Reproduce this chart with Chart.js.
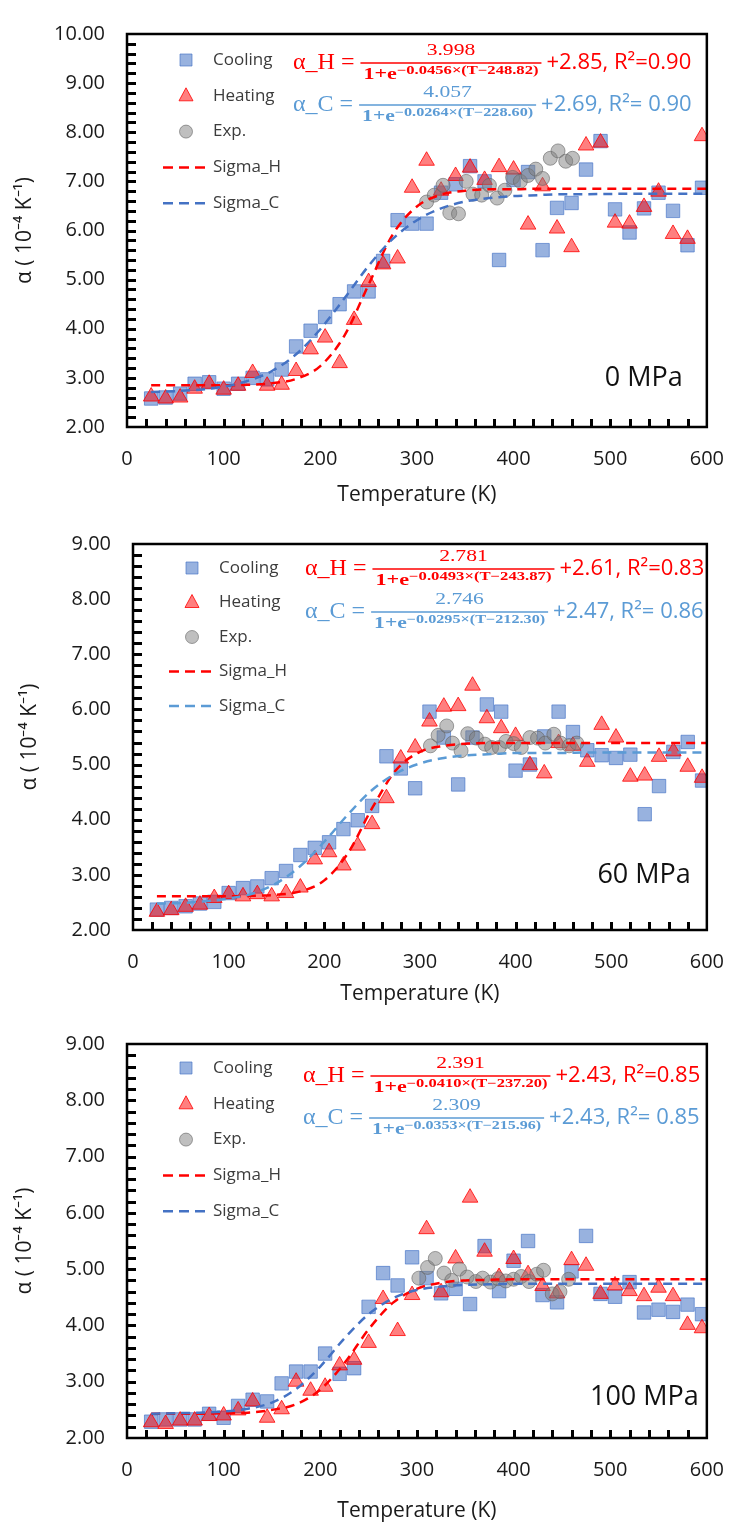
<!DOCTYPE html>
<html>
<head>
<meta charset="utf-8">
<script src="https://cdn.jsdelivr.net/npm/chart.js@4.4.1/dist/chart.umd.min.js"></script>
<style>
  body { margin: 0; background: #fff; }
  .panel { position: absolute; left: 0; width: 744px; }
</style>
</head>
<body>
<div class="panel" style="top:0;height:510px"><canvas id="c0"></canvas></div>
<div class="panel" style="top:510px;height:500px"><canvas id="c1"></canvas></div>
<div class="panel" style="top:1010px;height:520px"><canvas id="c2"></canvas></div>
<script>
// sample temperatures (K) shared by the cooling / heating series
const temps = [25, 40, 55, 70, 85, 100, 115, 130, 145, 160, 175, 190, 205, 220, 235, 250, 265, 280, 295,
  310, 325, 340, 355, 370, 385, 400, 415, 430, 445, 460, 475, 490, 505, 520, 535, 550, 565, 580, 595];
// temperatures where the sigmoid fit curves were read
const fitTemps = [25, 50, 75, 100, 125, 150, 175, 200, 225, 250, 275, 300, 325, 350, 375, 400,
  425, 450, 475, 500, 525, 550, 575, 600];

// ---- 0 MPa ----
const cooling0 = [2.58, 2.60, 2.68, 2.88, 2.91, 2.78, 2.88, 3.00, 2.97, 3.17, 3.64, 3.96, 4.24, 4.50, 4.76, 4.76, 5.38, 6.21, 6.14,
  6.14, 6.77, 6.94, 7.31, 7.00, 5.40, 7.03, 7.19, 5.60, 6.46, 6.56, 7.24, 7.82, 6.43, 5.96, 6.45, 6.77, 6.40, 5.70, 6.87];
const heating0 = [2.62, 2.58, 2.60, 2.78, 2.88, 2.76, 2.84, 3.10, 2.84, 2.86, 3.14, 3.58, 3.82, 3.30, 4.18, 4.95, 5.31, 5.43, 6.87,
  7.42, 6.81, 7.11, 7.28, 7.03, 7.29, 7.24, 6.12, 6.90, 6.04, 5.66, 7.73, 7.79, 6.16, 6.14, 6.48, 6.79, 5.93, 5.83, 7.92];
const expT0 = [310, 318, 327, 334, 343, 351, 358, 367, 375, 383, 391, 399, 407, 415, 423, 430, 438, 446, 454, 461];
const exp0 = [6.58, 6.72, 6.92, 6.36, 6.34, 7.00, 6.74, 6.72, 6.92, 6.66, 6.82, 7.08, 7.00, 7.12, 7.25, 7.06, 7.47, 7.62, 7.41, 7.47];
const sigmaH0 = [2.85, 2.85, 2.85, 2.85, 2.86, 2.89, 2.98, 3.24, 3.86, 4.90, 5.92, 6.49, 6.73, 6.81, 6.84, 6.84,
  6.85, 6.85, 6.85, 6.85, 6.85, 6.85, 6.85, 6.85];
const sigmaC0 = [2.71, 2.73, 2.76, 2.82, 2.94, 3.14, 3.48, 3.99, 4.62, 5.28, 5.83, 6.21, 6.45, 6.59, 6.66, 6.70,
  6.72, 6.74, 6.74, 6.745, 6.75, 6.75, 6.75, 6.75];

// ---- 60 MPa ----
const cooling60 = [2.37, 2.40, 2.43, 2.48, 2.51, 2.67, 2.76, 2.79, 2.94, 3.07, 3.36, 3.49, 3.59, 3.83, 3.99, 4.25, 5.15, 4.93, 4.57,
  5.96, 5.49, 4.64, 5.49, 6.09, 5.96, 4.89, 5.00, 5.51, 5.96, 5.59, 5.26, 5.17, 5.12, 5.18, 4.10, 4.61, 5.23, 5.41, 4.71];
const heating60 = [2.33, 2.36, 2.42, 2.46, 2.58, 2.65, 2.61, 2.65, 2.61, 2.67, 2.77, 3.28, 3.41, 3.17, 3.53, 3.92, 4.39, 5.11, 5.31,
  5.78, 6.05, 6.06, 6.43, 5.84, 5.66, 5.52, 4.99, 4.84, 5.39, 5.34, 5.05, 5.72, 5.49, 4.78, 4.80, 5.14, 5.24, 4.96, 4.76];
const expT60 = [311, 319, 328, 334, 343, 350, 359, 368, 375, 383, 390, 398, 406, 415, 423, 431, 440, 447, 456, 464];
const exp60 = [5.34, 5.53, 5.70, 5.39, 5.25, 5.56, 5.48, 5.37, 5.31, 5.31, 5.42, 5.38, 5.31, 5.49, 5.48, 5.39, 5.55, 5.39, 5.34, 5.39];
const sigmaH60 = [2.61, 2.61, 2.61, 2.61, 2.62, 2.64, 2.70, 2.90, 3.40, 4.21, 4.90, 5.23, 5.34, 5.38, 5.39, 5.39,
  5.39, 5.39, 5.39, 5.39, 5.39, 5.39, 5.39, 5.39];
const sigmaC60 = [2.48, 2.49, 2.52, 2.57, 2.66, 2.85, 3.16, 3.60, 4.10, 4.54, 4.84, 5.02, 5.12, 5.17, 5.19, 5.21,
  5.21, 5.21, 5.22, 5.22, 5.22, 5.22, 5.22, 5.22];

// ---- 100 MPa ----
const cooling100 = [2.29, 2.33, 2.33, 2.33, 2.43, 2.36, 2.57, 2.68, 2.65, 2.97, 3.18, 3.18, 3.50, 3.14, 3.24, 4.33, 4.93, 4.71, 5.21,
  4.84, 4.57, 4.65, 4.38, 5.41, 4.61, 5.15, 5.50, 4.54, 4.41, 4.96, 5.59, 4.56, 4.51, 4.77, 4.23, 4.28, 4.24, 4.37, 4.20];
const heating100 = [2.28, 2.25, 2.31, 2.31, 2.39, 2.40, 2.49, 2.65, 2.36, 2.51, 3.00, 2.84, 2.91, 3.29, 3.39, 3.69, 4.47, 3.90, 4.54,
  5.71, 4.59, 5.19, 6.27, 5.31, 4.86, 5.18, 4.91, 4.70, 4.57, 5.16, 5.06, 4.56, 4.71, 4.61, 4.52, 4.67, 4.52, 4.01, 3.95];
const expT100 = [302, 311, 319, 328, 336, 344, 352, 361, 368, 376, 384, 392, 400, 408, 416, 424, 431, 440, 448, 457];
const exp100 = [4.84, 5.03, 5.19, 4.93, 4.80, 5.00, 4.86, 4.78, 4.84, 4.77, 4.83, 4.79, 4.82, 4.87, 4.78, 4.91, 4.98, 4.56, 4.60, 4.82];
const sigmaH100 = [2.43, 2.43, 2.43, 2.44, 2.45, 2.50, 2.60, 2.86, 3.33, 3.93, 4.40, 4.65, 4.76, 4.80, 4.81, 4.82,
  4.82, 4.82, 4.82, 4.82, 4.82, 4.82, 4.82, 4.82];
const sigmaC100 = [2.43, 2.44, 2.45, 2.47, 2.52, 2.63, 2.87, 3.27, 3.77, 4.20, 4.48, 4.63, 4.69, 4.72, 4.73, 4.74,
  4.74, 4.74, 4.74, 4.74, 4.74, 4.74, 4.74, 4.74];

// axis labels / texts
const pressures = ["0 MPa", "60 MPa", "100 MPa"];
const yMaxes = [10, 9, 9];
const eqH = [
  { num: "3.998", expo: "\u22120.0456\u00d7(T\u2212248.82)", tail: "+2.85, R\u00b2=0.90" },
  { num: "2.781", expo: "\u22120.0493\u00d7(T\u2212243.87)", tail: "+2.61, R\u00b2=0.83" },
  { num: "2.391", expo: "\u22120.0410\u00d7(T\u2212237.20)", tail: "+2.43, R\u00b2=0.85" },
];
const eqC = [
  { num: "4.057", expo: "\u22120.0264\u00d7(T\u2212228.60)", tail: "+2.69, R\u00b2= 0.90" },
  { num: "2.746", expo: "\u22120.0295\u00d7(T\u2212212.30)", tail: "+2.47, R\u00b2= 0.86" },
  { num: "2.309", expo: "\u22120.0353\u00d7(T\u2212215.96)", tail: "+2.43, R\u00b2= 0.85" },
];

const RED = "#FF0000";
const EQ_BLUE = "#5B9BD5";
const COOL_FILL = "rgba(68,114,196,0.55)";
const COOL_EDGE = "rgba(68,114,196,0.65)";
const HEAT_FILL = "rgba(255,0,0,0.5)";
const HEAT_EDGE = "rgba(255,0,0,0.8)";
const EXP_FILL = "rgba(127,127,127,0.5)";
const EXP_EDGE = "rgba(100,100,100,0.6)";
const SANS = '"Open Sans", sans-serif';
const SERIF = '"Liberation Serif", "DejaVu Serif", serif';

// layout of each panel (pixels)
const layouts = [
  { padTop: 16, yW: 127, xH: 83, xTitlePad: 2, yTitlePad: 12, curveC: "#4472C4",
    legTop: 26, legGap: 35.8, eqX: 166, eqYH: 29, eqYC: 71, fracH: 181, fracC: 177, pr: 24, pb: 49 },
  { padTop: 28, yW: 133, xH: 80, xTitlePad: 3, yTitlePad: 17, curveC: "#5B9BD5",
    legTop: 24, legGap: 34.5, eqX: 172, eqYH: 25, eqYC: 68, fracH: 182, fracC: 177, pr: 16, pb: 55 },
  { padTop: 23, yW: 127, xH: 92, xTitlePad: 6, yTitlePad: 12, curveC: "#4472C4",
    legTop: 24, legGap: 35.8, eqX: 176, eqYH: 32, eqYC: 74, fracH: 180, fracC: 175, pr: 8, pb: 41 },
];

function pairs(xs, ys) {
  return xs.map((x, i) => ({ x: x, y: ys[i] }));
}

function drawMarker(ctx, kind, x, y) {
  ctx.save();
  ctx.lineWidth = 1;
  ctx.beginPath();
  if (kind === "rect") {
    ctx.fillStyle = COOL_FILL; ctx.strokeStyle = COOL_EDGE;
    ctx.rect(x - 6, y - 6, 12, 12);
  } else if (kind === "triangle") {
    ctx.fillStyle = HEAT_FILL; ctx.strokeStyle = HEAT_EDGE;
    ctx.moveTo(x, y - 8); ctx.lineTo(x + 7, y + 5); ctx.lineTo(x - 7, y + 5); ctx.closePath();
  } else {
    ctx.fillStyle = EXP_FILL; ctx.strokeStyle = EXP_EDGE;
    ctx.arc(x, y, 6.5, 0, Math.PI * 2);
  }
  ctx.fill(); ctx.stroke();
  ctx.restore();
}

function drawEq(ctx, x, y, color, name, eq, fracW) {
  ctx.save();
  ctx.fillStyle = color; ctx.strokeStyle = color;
  ctx.textBaseline = "middle"; ctx.textAlign = "left";
  ctx.font = "24px " + SERIF;
  ctx.fillText(name, x, y);
  const lx = x + ctx.measureText(name).width + 6;
  ctx.lineWidth = 1.4;
  ctx.beginPath(); ctx.moveTo(lx, y); ctx.lineTo(lx + fracW, y); ctx.stroke();
  const cx = lx + fracW / 2;
  // denominator, stretched to the fraction width
  ctx.font = "bold 16px " + SERIF;
  const w1 = ctx.measureText("1+e").width;
  ctx.font = "bold 12px " + SERIF;
  const w2 = ctx.measureText(eq.expo).width;
  const sx = (fracW - 6) / (w1 + w2);
  ctx.save();
  ctx.translate(cx - (w1 + w2) * sx / 2, y + 12);
  ctx.scale(sx, 1);
  ctx.font = "bold 16px " + SERIF; ctx.fillText("1+e", 0, 0);
  ctx.font = "bold 12px " + SERIF; ctx.fillText(eq.expo, w1, -4);
  ctx.restore();
  // numerator
  ctx.save();
  ctx.translate(cx, y - 12);
  ctx.scale(1.35, 1);
  ctx.textAlign = "center";
  ctx.font = "16px " + SERIF; ctx.fillText(eq.num, 0, 0);
  ctx.restore();
  ctx.font = "22px " + SANS;
  ctx.fillText(eq.tail, lx + fracW + 5, y);
  ctx.restore();
}

function makeChart(idx, cooling, heating, expT, exp, sigH, sigC) {
  const L = layouts[idx];
  const yMax = yMaxes[idx];
  const panelPlugin = {
    id: "panel" + idx,
    afterDraw(chart) {
      const ctx = chart.ctx;
      const a = chart.chartArea;
      const xs = chart.scales.x;
      const ys = chart.scales.y;
      ctx.save();
      // inner tick marks (every 20 K and every 0.2)
      ctx.fillStyle = "#000";
      for (let t = 20; t < 600; t += 20) {
        const px = Math.round(xs.getPixelForValue(t));
        ctx.fillRect(px - 1, a.bottom - 8, 3, 8);
      }
      for (let k = 1; k < (yMax - 2) * 5; k++) {
        const py = Math.round(ys.getPixelForValue(2 + k * 0.2));
        ctx.fillRect(a.left, py - 1, 9, 3);
      }
      // frame
      ctx.strokeStyle = "#000";
      ctx.lineWidth = 2.5;
      ctx.strokeRect(a.left, a.top, a.right - a.left, a.bottom - a.top);
      // legend
      const labels = ["Cooling", "Heating", "Exp.", "Sigma_H", "Sigma_C"];
      const kinds = ["rect", "triangle", "circle", "lineH", "lineC"];
      ctx.font = "17px " + SANS;
      ctx.textBaseline = "middle"; ctx.textAlign = "left";
      labels.forEach((lab, i) => {
        const ly = a.top + L.legTop + i * L.legGap;
        const k = kinds[i];
        if (k === "lineH" || k === "lineC") {
          ctx.save();
          ctx.strokeStyle = k === "lineH" ? RED : L.curveC;
          ctx.lineWidth = 2.5; ctx.setLineDash([10, 6]);
          ctx.beginPath(); ctx.moveTo(a.left + 36, ly); ctx.lineTo(a.left + 82, ly); ctx.stroke();
          ctx.restore();
        } else {
          drawMarker(ctx, k, a.left + 59, ly);
        }
        ctx.fillStyle = "#3c3c3c";
        ctx.fillText(lab, a.left + 86, ly);
      });
      // fit equations
      drawEq(ctx, a.left + L.eqX, a.top + L.eqYH, RED, "\u03b1_H =", eqH[idx], L.fracH);
      drawEq(ctx, a.left + L.eqX, a.top + L.eqYC, EQ_BLUE, "\u03b1_C =", eqC[idx], L.fracC);
      // pressure label
      ctx.fillStyle = "#111";
      ctx.font = "27px " + SANS;
      ctx.textAlign = "right";
      ctx.fillText(pressures[idx], a.right - L.pr, a.bottom - L.pb);
      ctx.restore();
    }
  };

  new Chart(document.getElementById("c" + idx), {
    type: "scatter",
    data: {
      datasets: [
        { label: "Cooling", data: pairs(temps, cooling), pointStyle: "rect", pointRadius: 9.5,
          backgroundColor: COOL_FILL, borderColor: COOL_EDGE, borderWidth: 1, order: 5 },
        { label: "Heating", data: pairs(temps, heating), pointStyle: "triangle", pointRadius: 9,
          backgroundColor: HEAT_FILL, borderColor: HEAT_EDGE, borderWidth: 1, order: 4 },
        { label: "Exp.", data: pairs(expT, exp), pointStyle: "circle", pointRadius: 7,
          backgroundColor: EXP_FILL, borderColor: EXP_EDGE, borderWidth: 1, order: 3 },
        { label: "Sigma_H", data: pairs(fitTemps, sigH), showLine: true, pointRadius: 0,
          borderColor: RED, borderWidth: 2.5, borderDash: [9, 6], cubicInterpolationMode: "monotone", order: 2 },
        { label: "Sigma_C", data: pairs(fitTemps, sigC), showLine: true, pointRadius: 0,
          borderColor: L.curveC, borderWidth: 2.5, borderDash: [9, 6], cubicInterpolationMode: "monotone", order: 1 },
      ]
    },
    options: {
      responsive: true,
      maintainAspectRatio: false,
      animation: false,
      events: [],
      layout: { padding: { top: L.padTop, right: 23, left: 0, bottom: 0 } },
      plugins: { legend: { display: false }, tooltip: { enabled: false } },
      scales: {
        x: {
          type: "linear", min: 0, max: 600,
          grid: { display: false, drawTicks: false },
          border: { display: false },
          ticks: { stepSize: 100, padding: 20, color: "#1a1a1a", font: { family: SANS, size: 20 } },
          title: { display: true, text: "Temperature (K)", color: "#1a1a1a",
            font: { family: SANS, size: 21 }, padding: { top: 0, bottom: L.xTitlePad } },
          afterFit: (s) => { s.height = L.xH; }
        },
        y: {
          min: 2, max: yMax,
          grid: { display: false, drawTicks: false },
          border: { display: false },
          ticks: { stepSize: 1, padding: 22, color: "#1a1a1a", font: { family: SANS, size: 20 },
            callback: (v) => v.toFixed(2) },
          title: { display: true, text: "\u03b1 ( 10\u207b\u2074 K\u207b\u00b9)", color: "#1a1a1a",
            font: { family: SANS, size: 21 }, padding: { top: L.yTitlePad, bottom: 0 } },
          afterFit: (s) => { s.width = L.yW; }
        }
      }
    },
    plugins: [panelPlugin]
  });
}

makeChart(0, cooling0, heating0, expT0, exp0, sigmaH0, sigmaC0);
makeChart(1, cooling60, heating60, expT60, exp60, sigmaH60, sigmaC60);
makeChart(2, cooling100, heating100, expT100, exp100, sigmaH100, sigmaC100);
</script>
</body>
</html>
